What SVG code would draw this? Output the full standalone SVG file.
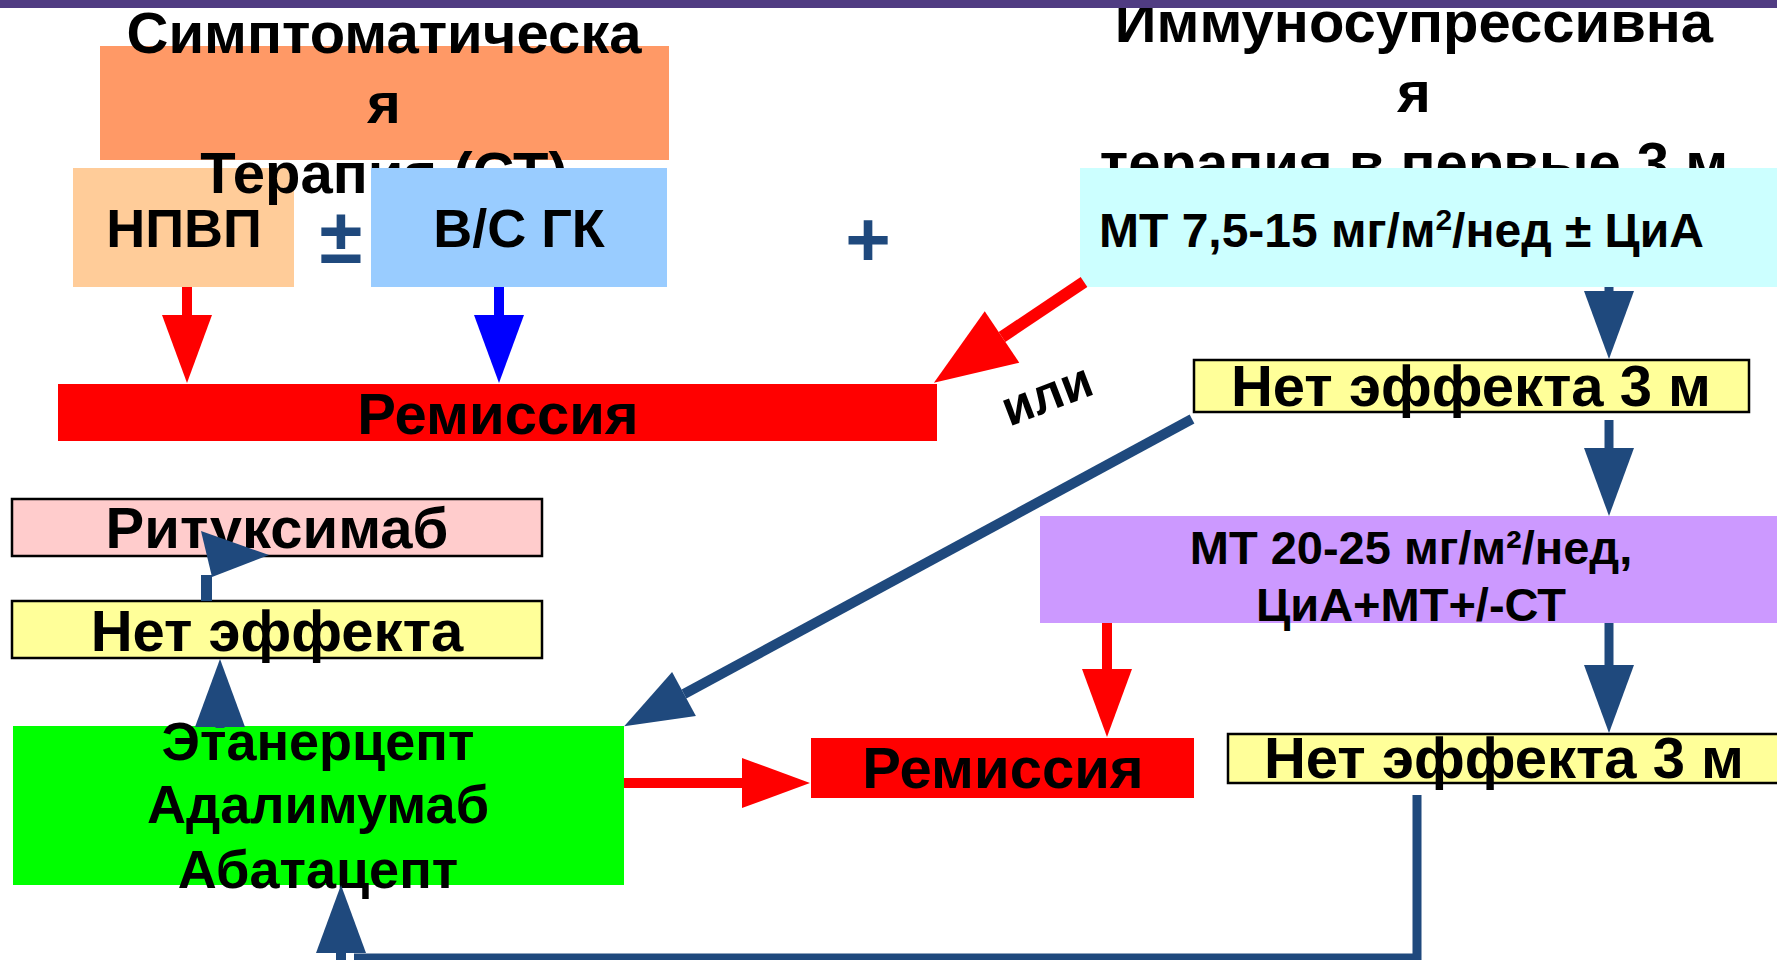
<svg xmlns="http://www.w3.org/2000/svg" width="1777" height="960" viewBox="0 0 1777 960">
<style>
text{font-family:"Liberation Sans",Arial,sans-serif;font-weight:bold;fill:#000}
.t58{font-size:58px}
.t54{font-size:54px}
.t48{font-size:48px}
.t47{font-size:47px}
.mid{text-anchor:middle}
.box{stroke:#000;stroke-width:2.5}
.nv{stroke:#1F497D;fill:none}
.rd{stroke:#FF0000;fill:none}
.bl{stroke:#0000FF;fill:none}
</style>
<defs>
<marker id="hr" markerUnits="userSpaceOnUse" markerWidth="70" markerHeight="52" refX="0" refY="25" orient="auto" overflow="visible"><path d="M0,0 L68,25 L0,50 z" fill="#FF0000"/></marker>
<marker id="hb" markerUnits="userSpaceOnUse" markerWidth="70" markerHeight="52" refX="0" refY="25" orient="auto" overflow="visible"><path d="M0,0 L68,25 L0,50 z" fill="#0000FF"/></marker>
<marker id="hn" markerUnits="userSpaceOnUse" markerWidth="70" markerHeight="52" refX="0" refY="25" orient="auto" overflow="visible"><path d="M0,0 L68,25 L0,50 z" fill="#1F497D"/></marker>
<marker id="hrb" markerUnits="userSpaceOnUse" markerWidth="84" markerHeight="64" refX="0" refY="31" orient="auto" overflow="visible"><path d="M0,0 L82,31 L0,62 z" fill="#FF0000"/></marker>
</defs>
<rect width="1777" height="960" fill="#fff"/>

<g id="nsaid">
<rect x="73" y="168" width="221" height="119" fill="#FFCC99"/>
<text class="t54 mid" x="184" y="247">НПВП</text>
</g>

<g id="symptomatic">
<rect x="100" y="46" width="569" height="114" fill="#FF9966"/>
<text class="t58 mid" x="384" y="53">Симптоматическа</text>
<text class="t58 mid" x="384" y="123">я</text>
<text class="t58 mid" x="384" y="193">Терапия (СТ)</text>
</g>

<g id="gc">
<rect x="371" y="168" width="296" height="119" fill="#99CCFF"/>
<text class="t54 mid" x="519" y="247">В/С ГК</text>
</g>

<g id="signs">
<text class="mid" x="341" y="263" style="font-size:78px;fill:#1F497D">±</text>
<text class="mid" x="868" y="266" style="font-size:78px;fill:#1F497D">+</text>
</g>

<g id="immuno">
<text class="t58 mid" x="1414" y="42">Иммуносупрессивна</text>
<text class="t58 mid" x="1414" y="112">я</text>
<text class="t58 mid" x="1414" y="183">терапия в первые 3 м</text>
</g>

<g id="mt">
<rect x="1080" y="168" width="697" height="119" fill="#CCFFFF"/>
<text class="t48" x="1099" y="247">МТ 7,5-15 мг/м<tspan dy="-17" style="font-size:30px">2</tspan><tspan dy="17">/нед ± ЦиА</tspan></text>
</g>

<g id="remission1">
<rect x="58" y="384" width="879" height="57" fill="#FF0000"/>
<text class="t58 mid" x="498" y="434">Ремиссия</text>
</g>

<g id="noeffect1">
<rect class="box" x="1194" y="360" width="555" height="52" fill="#FFFF99"/>
<text class="t58 mid" x="1471" y="406">Нет эффекта 3 м</text>
</g>

<g id="mt2">
<rect x="1040" y="516" width="737" height="107" fill="#CC99FF"/>
<text class="t47 mid" x="1411" y="564">МТ 20-25 мг/м²/нед,</text>
<text class="t47 mid" x="1411" y="621">ЦиА+МТ+/-СТ</text>
</g>

<g id="remission2">
<rect x="811" y="738" width="383" height="60" fill="#FF0000"/>
<text class="t58 mid" x="1003" y="788">Ремиссия</text>
</g>

<g id="noeffect2">
<rect class="box" x="1228" y="734" width="560" height="49" fill="#FFFF99"/>
<text class="t58 mid" x="1504" y="778">Нет эффекта 3 м</text>
</g>

<g id="biologics">
<rect x="13" y="726" width="611" height="159" fill="#00FF00"/>
<text class="t54 mid" x="318" y="760">Этанерцепт</text>
<text class="t54 mid" x="318" y="823">Адалимумаб</text>
<text class="t54 mid" x="318" y="888">Абатацепт</text>
</g>

<g id="noeffect3">
<rect class="box" x="12" y="601" width="530" height="57" fill="#FFFF99"/>
<text class="t58 mid" x="277" y="651">Нет эффекта</text>
</g>

<g id="rituximab">
<rect class="box" x="12" y="499" width="530" height="57" fill="#FFCCCC"/>
<text class="t58 mid" x="277" y="548">Ритуксимаб</text>
</g>

<g id="or-label">
<text class="mid" transform="translate(1048,398) rotate(-21)" x="0" y="13" style="font-size:50px">или</text>
</g>

<g id="connectors">
<line class="rd" x1="187" y1="287" x2="187" y2="315" stroke-width="10" marker-end="url(#hr)"/>
<line class="bl" x1="499" y1="287" x2="499" y2="315" stroke-width="10" marker-end="url(#hb)"/>
<line class="rd" x1="1084" y1="282" x2="1002" y2="337" stroke-width="12" marker-end="url(#hrb)"/>
<line class="nv" x1="1609" y1="287" x2="1609" y2="291" stroke-width="9" marker-end="url(#hn)"/>
<line class="nv" x1="1609" y1="420" x2="1609" y2="448" stroke-width="9" marker-end="url(#hn)"/>
<line class="nv" x1="1192" y1="419" x2="684" y2="694" stroke-width="10" marker-end="url(#hn)"/>
<line class="rd" x1="1107" y1="623" x2="1107" y2="669" stroke-width="10" marker-end="url(#hr)"/>
<line class="nv" x1="1609" y1="623" x2="1609" y2="665" stroke-width="9" marker-end="url(#hn)"/>
<path class="nv" d="M1417,795 V958 H354" stroke-width="9"/>
<line class="nv" x1="341" y1="962" x2="341" y2="953" stroke-width="10" marker-end="url(#hn)"/>
<line class="nv" x1="220" y1="728" x2="220" y2="727" stroke-width="9" marker-end="url(#hn)"/>
<line class="nv" x1="206.5" y1="601" x2="206.5" y2="575" stroke-width="11"/>
<polygon points="201,531 269,555 212,577" fill="#1F497D"/>
<line class="rd" x1="624" y1="783" x2="742" y2="783" stroke-width="10" marker-end="url(#hr)"/>
</g>

<rect id="topbar" x="0" y="0" width="1777" height="8" fill="#503C82"/>
</svg>
